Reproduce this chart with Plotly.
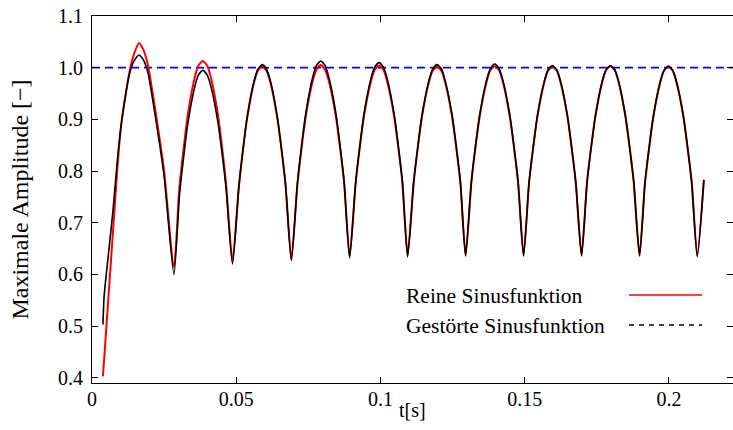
import plotly.graph_objects as go

# time axis [s] (shared by both series)
t = [0.0038, 0.0042, 0.0055, 0.0073, 0.0088, 0.0102, 0.0131, 0.0148, 0.0163, 0.0178, 0.0194, 0.0223, 0.0250, 0.0284,
     0.0303, 0.0318, 0.0332, 0.0355, 0.0369, 0.0384, 0.0399, 0.0413, 0.0436, 0.0450, 0.0465, 0.0487,
     0.0509, 0.0524, 0.0538, 0.0561, 0.0575, 0.0590, 0.0605, 0.0619, 0.0642, 0.0656, 0.0671, 0.0691,
     0.0712, 0.0727, 0.0741, 0.0764, 0.0778, 0.0793, 0.0808, 0.0822, 0.0845, 0.0859, 0.0874, 0.0893,
     0.0914, 0.0929, 0.0943, 0.0966, 0.0980, 0.0995, 0.1010, 0.1024, 0.1047, 0.1061, 0.1076, 0.1094,
     0.1115, 0.1130, 0.1144, 0.1167, 0.1181, 0.1196, 0.1211, 0.1225, 0.1248, 0.1262, 0.1277, 0.1295,
     0.1315, 0.1330, 0.1344, 0.1367, 0.1381, 0.1396, 0.1411, 0.1425, 0.1448, 0.1462, 0.1477, 0.1496,
     0.1515, 0.1530, 0.1544, 0.1567, 0.1581, 0.1596, 0.1611, 0.1625, 0.1648, 0.1662, 0.1677, 0.1697,
     0.1716, 0.1731, 0.1745, 0.1768, 0.1782, 0.1797, 0.1812, 0.1826, 0.1849, 0.1863, 0.1878, 0.1898,
     0.1917, 0.1932, 0.1946, 0.1969, 0.1983, 0.1998, 0.2013, 0.2027, 0.2050, 0.2064, 0.2079, 0.2098,
     0.2121]

# Reine Sinusfunktion (red)
y_rein = [0.403, 0.435, 0.540, 0.685, 0.806, 0.893, 0.995, 1.030, 1.048, 1.035, 1.005, 0.905, 0.800, 0.614,
          0.768, 0.845, 0.908, 0.978, 1.004, 1.013, 1.004, 0.979, 0.911, 0.850, 0.774, 0.624,
          0.770, 0.844, 0.903, 0.970, 0.994, 1.003, 0.994, 0.970, 0.904, 0.846, 0.773, 0.628,
          0.774, 0.847, 0.906, 0.972, 0.996, 1.005, 0.996, 0.972, 0.907, 0.849, 0.777, 0.634,
          0.777, 0.849, 0.907, 0.971, 0.996, 1.004, 0.996, 0.972, 0.907, 0.849, 0.778, 0.636,
          0.777, 0.848, 0.906, 0.970, 0.994, 1.002, 0.994, 0.970, 0.906, 0.848, 0.777, 0.636,
          0.778, 0.849, 0.906, 0.971, 0.995, 1.003, 0.995, 0.971, 0.906, 0.849, 0.778, 0.636,
          0.777, 0.848, 0.906, 0.970, 0.994, 1.002, 0.994, 0.970, 0.906, 0.848, 0.777, 0.636,
          0.778, 0.849, 0.906, 0.971, 0.995, 1.003, 0.995, 0.971, 0.906, 0.849, 0.778, 0.636,
          0.777, 0.848, 0.906, 0.970, 0.994, 1.002, 0.994, 0.970, 0.906, 0.848, 0.777, 0.635,
          0.783]

# Gestörte Sinusfunktion (black)
y_gestoert = [0.503, 0.558, 0.629, 0.725, 0.822, 0.893, 0.990, 1.015, 1.024, 1.015, 0.990, 0.893, 0.790, 0.600,
              0.752, 0.829, 0.891, 0.960, 0.986, 0.995, 0.986, 0.962, 0.896, 0.838, 0.765, 0.620,
              0.769, 0.844, 0.905, 0.972, 0.997, 1.006, 0.997, 0.973, 0.906, 0.847, 0.773, 0.627,
              0.776, 0.851, 0.911, 0.979, 1.004, 1.013, 1.004, 0.979, 0.913, 0.853, 0.779, 0.632,
              0.778, 0.851, 0.911, 0.977, 1.001, 1.010, 1.001, 0.977, 0.911, 0.852, 0.779, 0.634,
              0.778, 0.850, 0.908, 0.973, 0.997, 1.006, 0.998, 0.973, 0.909, 0.851, 0.779, 0.636,
              0.779, 0.851, 0.909, 0.974, 0.998, 1.007, 0.998, 0.974, 0.909, 0.851, 0.779, 0.636,
              0.778, 0.849, 0.907, 0.972, 0.996, 1.004, 0.996, 0.972, 0.907, 0.849, 0.778, 0.636,
              0.778, 0.849, 0.907, 0.972, 0.996, 1.004, 0.996, 0.972, 0.907, 0.849, 0.778, 0.636,
              0.778, 0.849, 0.906, 0.971, 0.995, 1.003, 0.995, 0.971, 0.906, 0.848, 0.777, 0.635,
              0.783]

ref_x = [0.0, 0.2222]
ref_y = [1.0, 1.0]

x_ticks = [0, 0.05, 0.1, 0.15, 0.2]
x_ticklabels = ["0", "0.05", "0.1", "0.15", "0.2"]
y_ticks = [0.4, 0.5, 0.6, 0.7, 0.8, 0.9, 1.0, 1.1]
y_ticklabels = ["0.4", "0.5", "0.6", "0.7", "0.8", "0.9", "1.0", "1.1"]

FONT = "Liberation Serif"
FS = 20
FS_KEY = 21.5

fig = go.Figure()
fig.add_trace(go.Scatter(x=ref_x, y=ref_y, mode="lines",
                         line=dict(color="#0000ff", width=1.8, dash="8px,5px"), showlegend=False))
fig.add_trace(go.Scatter(x=t, y=y_rein, mode="lines", name="Reine Sinusfunktion",
                         line=dict(color="#ff0000", width=2, shape="spline", smoothing=0.6),
                         showlegend=False))
fig.add_trace(go.Scatter(x=t, y=y_gestoert, mode="lines", name="Gestörte Sinusfunktion",
                         line=dict(color="#000000", width=1.6, shape="spline", smoothing=0.6),
                         showlegend=False))
# right-side ticks only (no border line)
fig.add_trace(go.Scatter(x=[None], y=[None], yaxis="y2", showlegend=False))

fig.update_layout(
    width=733, height=430,
    margin=dict(l=92, r=0, t=16, b=47),
    paper_bgcolor="white", plot_bgcolor="white",
    font=dict(family=FONT, size=FS, color="black"),
    xaxis=dict(range=[0, 0.2222], tickvals=x_ticks, ticktext=x_ticklabels,
               ticks="inside", ticklen=6, tickcolor="black", tickwidth=1,
               showline=True, linecolor="black", linewidth=1, mirror="ticks",
               showgrid=False, zeroline=False, ticklabelstandoff=-2),
    yaxis=dict(range=[0.39, 1.1], tickvals=y_ticks, ticktext=y_ticklabels,
               ticks="inside", ticklen=6, tickcolor="black", tickwidth=1,
               showline=True, linecolor="black", linewidth=1, mirror=False,
               showgrid=False, zeroline=False, ticklabelstandoff=4,
               title=dict(text="Maximale Amplitude [−]", standoff=22)),
    yaxis2=dict(range=[0.39, 1.1], tickvals=y_ticks, overlaying="y", side="right",
                ticks="inside", ticklen=6, tickcolor="black", showticklabels=False,
                showline=False, showgrid=False, zeroline=False),
)

# x-axis title
fig.add_annotation(xref="paper", yref="paper", x=0.5, y=-0.0736, text="t[s]",
                   showarrow=False, xanchor="center", yanchor="middle", font=dict(family=FONT, size=FS))

# key (gnuplot style: text on the left, sample line on the right)
fig.add_annotation(xref="paper", yref="paper", x=0.4867, y=0.237, text="Reine Sinusfunktion",
                   showarrow=False, xanchor="left", yanchor="middle", font=dict(family=FONT, size=FS_KEY))
fig.add_annotation(xref="paper", yref="paper", x=0.4867, y=0.155, text="Gestörte Sinusfunktion",
                   showarrow=False, xanchor="left", yanchor="middle", font=dict(family=FONT, size=FS_KEY))
fig.add_shape(type="line", xref="paper", yref="paper", x0=0.8378, x1=0.9516, y0=0.2398, y1=0.2398,
              line=dict(color="#ff0000", width=1.5))
fig.add_shape(type="line", xref="paper", yref="paper", x0=0.8378, x1=0.9516, y0=0.158, y1=0.158,
              line=dict(color="#000000", width=1.5, dash="5px,5px"))

fig.write_html("out.html", config={"displayModeBar": False},
               post_script="document.body.style.margin='0';document.body.style.overflow='hidden';")
